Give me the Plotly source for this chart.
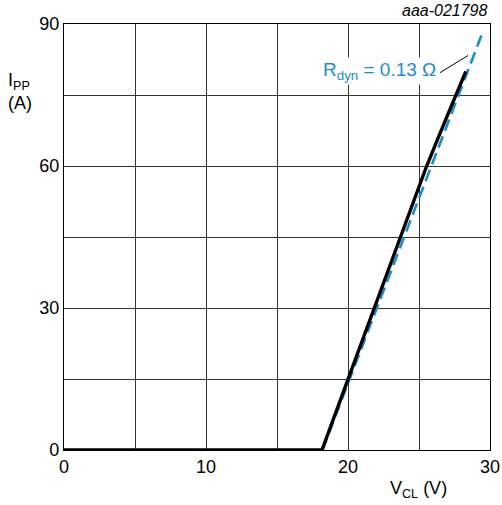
import plotly.graph_objects as go

# Measured clamping curve (black)
v_meas = [0, 5, 10, 15, 18.17, 19.0, 20.0, 20.9, 21.85, 22.8, 23.71, 24.6, 25.54, 26.6, 27.6, 28.3]
i_meas = [0, 0, 0, 0, 0, 6.8, 15, 22.4, 30, 37.6, 45.2, 52.5, 60, 67.8, 75, 80]

# Dynamic resistance fit line (blue dashed)
v_fit = [18.2, 29.45]
i_fit = [0, 88]

x_ticks = [0, 10, 20, 30]
y_ticks = [0, 30, 60, 90]

BLUE = "#1b8dcf"
FONT = "Liberation Sans, Arial, sans-serif"

fig = go.Figure()
fig.add_trace(go.Scatter(x=v_fit, y=i_fit, mode="lines",
                         line=dict(color=BLUE, width=2.6, dash="12px,6px"),
                         showlegend=False, hoverinfo="skip"))
fig.add_trace(go.Scatter(x=v_meas, y=i_meas, mode="lines",
                         line=dict(color="black", width=3.4),
                         showlegend=False, hoverinfo="skip"))

axis_common = dict(showgrid=True, gridcolor="#333333", gridwidth=1,
                   showline=True, linecolor="black", linewidth=1.3, mirror=True,
                   zeroline=False, ticks="", automargin=False, ticklabeloverflow="allow",
                   tickfont=dict(size=18, color="black", family=FONT))

fig.update_xaxes(range=[0, 30], tickvals=x_ticks, **axis_common)
fig.update_yaxes(range=[0, 90], tickvals=y_ticks, **axis_common)
fig.update_xaxes(minor=dict(tickvals=[5, 15, 25], showgrid=True, gridcolor="#333333", gridwidth=1))
fig.update_yaxes(minor=dict(tickvals=[15, 45, 75], showgrid=True, gridcolor="#333333", gridwidth=1))

fig.add_annotation(x=(379 - 64) / 426, y=(450 - 71) / 426, xref="paper", yref="paper",
                   text="R<sub>dyn</sub> = 0.13 Ω", showarrow=False,
                   font=dict(size=19, color=BLUE, family=FONT),
                   bgcolor="white", xanchor="center", yanchor="middle")
fig.add_shape(type="line", xref="x", yref="y",
              x0=(440 - 64) / 14.2, y0=(450 - 72.7) / 4.733,
              x1=(468 - 64) / 14.2, y1=(450 - 55.5) / 4.733,
              line=dict(color="black", width=1))

fig.add_annotation(x=1, y=1, xref="paper", yref="paper", xanchor="right", yanchor="bottom",
                   yshift=3, text="<i>aaa-021798</i>", showarrow=False,
                   font=dict(size=16, color="black", family=FONT))
fig.add_annotation(x=(6 - 64) / 426, y=(450 - 92) / 426, xref="paper", yref="paper",
                   xanchor="left", yanchor="middle",
                   text="I<sub>PP</sub><br>(A)", showarrow=False, align="left",
                   font=dict(size=18, color="black", family=FONT))
fig.add_annotation(x=(418 - 64) / 426, y=(450 - 489) / 426, xref="paper", yref="paper",
                   xanchor="center", yanchor="middle", text="V<sub>CL</sub> (V)", showarrow=False,
                   font=dict(size=18, color="black", family=FONT))

fig.update_layout(width=502, height=505, margin=dict(l=64, r=12, t=24, b=55),
                  plot_bgcolor="white", paper_bgcolor="white",
                  font=dict(family=FONT, color="black"))

fig.write_html("out.html",
               config={"displayModeBar": False, "responsive": False},
               post_script="document.body.style.margin='0';document.body.style.overflow='hidden';")
